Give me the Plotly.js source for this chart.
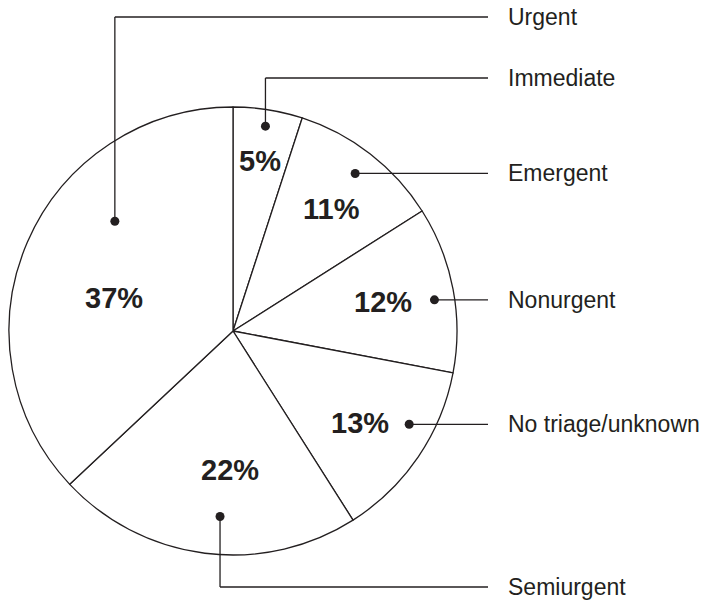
<!DOCTYPE html>
<html>
<head>
<meta charset="utf-8">
<script src="https://cdn.plot.ly/plotly-3.0.1.min.js"></script>
<style>html,body{margin:0;padding:0;background:#fff;}#chart{width:708px;height:601px;}</style>
</head>
<body>
<div id="chart"></div>
<script>
// ---- data ----
const categories = ['Immediate', 'Emergent', 'Nonurgent', 'No triage/unknown', 'Semiurgent', 'Urgent'];
const shares = [5, 11, 12, 13, 22, 37];
const pctLabels = shares.map(v => v + '%');

// ---- layout / style (pixels) ----
const W = 708, H = 601;
const CX = 233, CY = 331, R = 224;
const INK = '#231f20';
const textShift = [0, 1, 0, 1.8, -6, -7.8];       // degrees relative to slice mid-angle
const textRad   = [0.77, 0.70, 0.68, 0.70, 0.62, 0.55];
const dotShift  = [0, 0, 2, -6.3, -3.2, 19.5];
const dotRad    = [0.926, 0.89, 0.91, 0.89, 0.83, 0.72];
const labelY    = [78, null, null, null, 587, 17];   // elbow target rows (null = straight)
const leaderEndX = 488, labelX = 506, dotR = 4.5;

const px = x => x / W;
const py = y => 1 - y / H;
const polar = (deg, r) => {
  const a = deg * Math.PI / 180;
  return [CX + r * Math.sin(a), CY - r * Math.cos(a)];
};

const total = shares.reduce((a, b) => a + b, 0);
let cum = 0;
const mids = shares.map(v => { const m = (cum + v / 2) / total * 360; cum += v; return m; });

const shapes = [];
const annotations = [];
categories.forEach((name, i) => {
  const [tx, ty] = polar(mids[i] + textShift[i], R * textRad[i]);
  annotations.push({
    xref: 'paper', yref: 'paper', x: px(tx), y: py(ty),
    text: '<b>' + pctLabels[i] + '</b>', showarrow: false,
    xanchor: 'center', yanchor: 'middle',
    font: {family: 'Liberation Sans, Arial, sans-serif', size: 29, color: INK}
  });
  const [dx, dy] = polar(mids[i] + dotShift[i], R * dotRad[i]);
  const rowY = labelY[i] === null ? dy : labelY[i];
  const line = {color: INK, width: 1.3};
  if (labelY[i] !== null) {
    shapes.push({type: 'line', xref: 'paper', yref: 'paper', layer: 'above',
      x0: px(dx), y0: py(dy), x1: px(dx), y1: py(rowY), line});
  }
  shapes.push({type: 'line', xref: 'paper', yref: 'paper', layer: 'above',
    x0: px(dx), y0: py(rowY), x1: px(leaderEndX), y1: py(rowY), line});
  shapes.push({type: 'circle', xref: 'paper', yref: 'paper', layer: 'above',
    x0: px(dx - dotR), x1: px(dx + dotR), y0: py(dy - dotR), y1: py(dy + dotR),
    fillcolor: INK, line: {color: INK, width: 0}});
  annotations.push({
    xref: 'paper', yref: 'paper', x: px(labelX), y: py(rowY),
    text: name, showarrow: false, xanchor: 'left', yanchor: 'middle',
    font: {family: 'Liberation Sans, Arial, sans-serif', size: 23, color: INK}
  });
});

const trace = {
  type: 'pie',
  labels: categories,
  values: shares,
  sort: false,
  direction: 'clockwise',
  rotation: 0,
  textinfo: 'none',
  hoverinfo: 'none',
  showlegend: false,
  marker: {colors: categories.map(() => '#ffffff'), line: {color: INK, width: 1.3}},
  domain: {x: [px(CX - R), px(CX + R)], y: [py(CY + R), py(CY - R)]}
};

const layout = {
  width: W, height: H,
  margin: {l: 0, r: 0, t: 0, b: 0},
  paper_bgcolor: '#ffffff', plot_bgcolor: '#ffffff',
  showlegend: false,
  shapes, annotations
};

Plotly.newPlot('chart', [trace], layout, {displayModeBar: false, staticPlot: true});
</script>
</body>
</html>
